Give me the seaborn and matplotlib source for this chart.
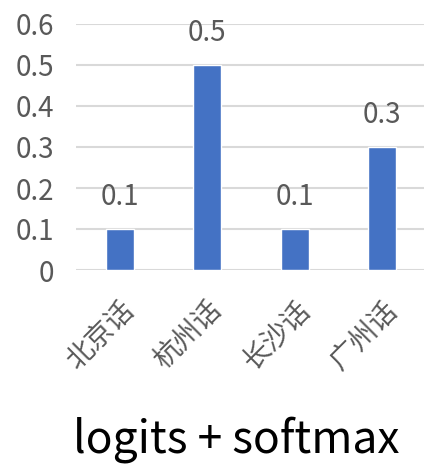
import pandas as pd
import matplotlib
matplotlib.use('Agg')
import matplotlib.pyplot as plt
import seaborn as sns

# Datos del gráfico
dialectos = ['北京话', '杭州话', '长沙话', '广州话']
probabilidades = [0.1, 0.5, 0.1, 0.3]
ticks_y = [0, 0.1, 0.2, 0.3, 0.4, 0.5, 0.6]
etiquetas_y = ['0', '0.1', '0.2', '0.3', '0.4', '0.5', '0.6']
titulo = 'logits + softmax'

df = pd.DataFrame({'Dialecto': dialectos, 'Prob': probabilidades})

sns.set_style('white')
plt.rcParams['font.family'] = ['Noto Sans CJK SC', 'DejaVu Sans']

fig = plt.figure(figsize=(4.24, 4.66), dpi=100)
ax = fig.add_axes([76 / 424, (466 - 270) / 466, 350 / 424, 246 / 466])

sns.barplot(data=df, x='Dialecto', y='Prob', color='#4472C4', width=0.32,
            saturation=1, ax=ax, zorder=3)

for c in ax.containers:
    ax.bar_label(c, labels=[f'{v:g}' for v in probabilidades], padding=12,
                 fontsize=20, color='#595959')

ax.set_xlim(-0.5, 3.5)
ax.set_ylim(0, 0.6)
ax.set_yticks(ticks_y)
ax.set_yticklabels(etiquetas_y, fontsize=20, color='#595959')
ax.set_xticks(range(len(dialectos)))
ax.set_xticklabels(dialectos, fontsize=20, color='#595959', rotation=45,
                   ha='right', rotation_mode='anchor')
ax.tick_params(axis='both', length=0)
ax.tick_params(axis='y', pad=16)
ax.tick_params(axis='x', pad=18)
ax.grid(axis='y', color='#D9D9D9', linewidth=1.5, zorder=0)
ax.set_axisbelow(True)
ax.set_xlabel('')
ax.set_ylabel('')
sns.despine(ax=ax, left=True, bottom=True, top=True, right=True)

fig.text(236 / 424, (466 - 440) / 466, titulo, fontsize=32, color='black',
         ha='center', va='center')

fig.savefig('out.png', dpi=100)
